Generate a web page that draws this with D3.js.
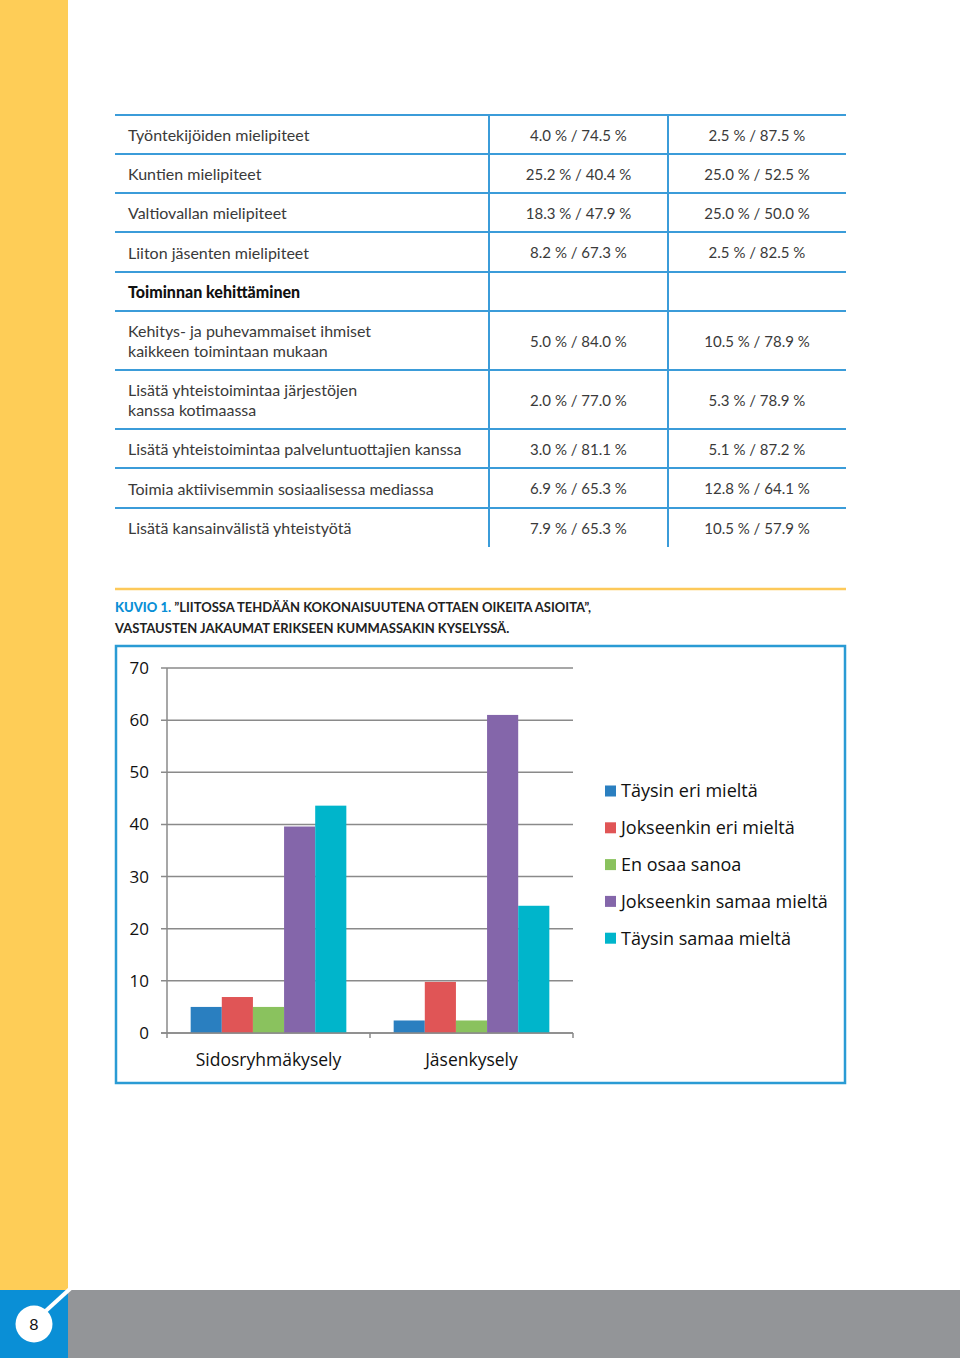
<!DOCTYPE html>
<html><head><meta charset="utf-8">
<script src="https://cdn.jsdelivr.net/npm/d3@7"></script>
<style>
html,body{margin:0;padding:0;background:#fff;}
svg{display:block;}
</style></head>
<body>
<svg id="page" width="960" height="1358"></svg>
<script>
// ---------- data ----------
const tableLabels = [
  ["Työntekijöiden mielipiteet"],
  ["Kuntien mielipiteet"],
  ["Valtiovallan mielipiteet"],
  ["Liiton jäsenten mielipiteet"],
  ["Toiminnan kehittäminen"],
  ["Kehitys- ja puhevammaiset ihmiset","kaikkeen toimintaan mukaan"],
  ["Lisätä yhteistoimintaa järjestöjen","kanssa kotimaassa"],
  ["Lisätä yhteistoimintaa palveluntuottajien kanssa"],
  ["Toimia aktiivisemmin sosiaalisessa mediassa"],
  ["Lisätä kansainvälistä yhteistyötä"]
];
const tableCol1 = ["4.0 % / 74.5 %","25.2 % / 40.4 %","18.3 % / 47.9 %","8.2 % / 67.3 %","","5.0 % / 84.0 %","2.0 % / 77.0 %","3.0 % / 81.1 %","6.9 % / 65.3 %","7.9 % / 65.3 %"];
const tableCol2 = ["2.5 % / 87.5 %","25.0 % / 52.5 %","25.0 % / 50.0 %","2.5 % / 82.5 %","","10.5 % / 78.9 %","5.3 % / 78.9 %","5.1 % / 87.2 %","12.8 % / 64.1 %","10.5 % / 57.9 %"];
const tableBold = [false,false,false,false,true,false,false,false,false,false];

const captionLabel = "KUVIO 1.";
const captionLine1 = "”LIITOSSA TEHDÄÄN KOKONAISUUTENA OTTAEN OIKEITA ASIOITA”,";
const captionLine2 = "VASTAUSTEN JAKAUMAT ERIKSEEN KUMMASSAKIN KYSELYSSÄ.";

const categories = ["Sidosryhmäkysely","Jäsenkysely"];
const seriesNames = ["Täysin eri mieltä","Jokseenkin eri mieltä","En osaa sanoa","Jokseenkin samaa mieltä","Täysin samaa mieltä"];
const sidosValues = [5.0, 6.9, 5.0, 39.6, 43.6];
const jasenValues = [2.4, 9.8, 2.4, 61.0, 24.4];
const yTicks = [0,10,20,30,40,50,60,70];
const seriesColors = ["#2a7fc0","#e05556","#8ac25e","#8466aa","#00b5cb"];
const pageNumber = "8";

// ---------- page decoration ----------
const svg = d3.select("#page");
svg.append("rect").attr("x",0).attr("y",0).attr("width",68).attr("height",1290).attr("fill","#fecd57");
svg.append("rect").attr("x",68).attr("y",1290).attr("width",892).attr("height",68).attr("fill","#939598");
svg.append("rect").attr("x",0).attr("y",1290).attr("width",68).attr("height",68).attr("fill","#0a8fd6");
svg.append("line").attr("x1",38).attr("y1",1318).attr("x2",72).attr("y2",1287).attr("stroke","#fff").attr("stroke-width",4);
svg.append("circle").attr("cx",34).attr("cy",1324).attr("r",18.5).attr("fill","#fff");
svg.append("text").attr("x",34).attr("y",1330).attr("text-anchor","middle")
  .attr("font-family","Lato, sans-serif").attr("font-size",16).attr("fill","#111").text(pageNumber);

// ---------- table ----------
const tableFont = "Lato, 'Open Sans', sans-serif";
const lineYs = [115,154,193,232,272,311,370,429,468,508];
const rowBottom = lineYs.slice(1).concat([547]);
const tX0 = 115, tX1 = 846, c1 = 489, c2 = 668;
const tableLines = svg.append("g").attr("stroke","#3b9cd9").attr("stroke-width",2);
lineYs.forEach(y=>tableLines.append("line").attr("x1",tX0).attr("x2",tX1).attr("y1",y).attr("y2",y));
[c1,c2].forEach(x=>tableLines.append("line").attr("x1",x).attr("x2",x).attr("y1",lineYs[0]).attr("y2",547));

const tg = svg.append("g").attr("font-family",tableFont).attr("fill","#3a3a3a");
tableLabels.forEach((lines,i)=>{
  const cy = (lineYs[i]+rowBottom[i])/2 + 1;
  const n = lines.length;
  lines.forEach((l,j)=>{
    tg.append("text").attr("x",128).attr("y",cy + (j-(n-1)/2)*19.5).attr("dy","0.35em")
      .attr("font-size",16)
      .attr("font-weight",tableBold[i]?900:400).attr("fill",tableBold[i]?"#111":"#3a3a3a").text(l);
  });
  tg.append("text").attr("x",(c1+c2)/2).attr("y",cy).attr("dy","0.35em").attr("font-size",15).attr("text-anchor","middle").text(tableCol1[i]);
  tg.append("text").attr("x",(c2+tX1)/2).attr("y",cy).attr("dy","0.35em").attr("font-size",15).attr("text-anchor","middle").text(tableCol2[i]);
});

// ---------- caption ----------
svg.append("line").attr("x1",115).attr("x2",846).attr("y1",589).attr("y2",589).attr("stroke","#fdc95a").attr("stroke-width",2.5);
const cap = svg.append("g").attr("font-family",tableFont).attr("font-size",13).attr("fill","#222");
const t1 = cap.append("text").attr("x",115).attr("y",612);
t1.append("tspan").attr("fill","#0a8fd6").attr("font-weight",900).text(captionLabel+" ");
t1.append("tspan").attr("font-weight",700).text(captionLine1);
cap.append("text").attr("x",115).attr("y",633).attr("font-weight",700).text(captionLine2);

// ---------- chart ----------
svg.append("rect").attr("x",116).attr("y",646).attr("width",729).attr("height",437)
  .attr("fill","#fff").attr("stroke","#2a9bd4").attr("stroke-width",2.5);

const chartFont = "'Open Sans', Lato, sans-serif";
const plotL = 167, plotR = 573, plotT = 668, plotB = 1033;
const y = d3.scaleLinear().domain([0,70]).range([plotB,plotT]);
const x0 = d3.scaleBand().domain(categories).range([plotL,plotR]).paddingInner(0).paddingOuter(0);
const x1 = d3.scaleBand().domain(seriesNames).range([0,x0.bandwidth()]).paddingInner(0).paddingOuter(0.76);

// gridlines
const grid = svg.append("g");
yTicks.forEach(t=>{
  grid.append("line").attr("x1",161).attr("x2",plotR).attr("y1",y(t)).attr("y2",y(t))
    .attr("stroke","#8a8a8a").attr("stroke-width",1.5);
});
// y axis line
svg.append("line").attr("x1",plotL).attr("x2",plotL).attr("y1",plotT).attr("y2",plotB+5).attr("stroke","#8a8a8a").attr("stroke-width",1.5);
// category ticks
categories.forEach((c,i)=>{
  const xx = x0(c)+x0.bandwidth();
  svg.append("line").attr("x1",xx).attr("x2",xx).attr("y1",plotB).attr("y2",plotB+5).attr("stroke","#8a8a8a").attr("stroke-width",1.5);
});

// y tick labels
const yl = svg.append("g").attr("font-family",chartFont).attr("font-size",17).attr("fill","#111");
yTicks.forEach(t=>{
  yl.append("text").attr("x",149).attr("y",y(t)).attr("dy","0.35em").attr("text-anchor","end").text(t);
});

// bars
const dataByCat = {"Sidosryhmäkysely":sidosValues,"Jäsenkysely":jasenValues};
categories.forEach(c=>{
  const g = svg.append("g").attr("transform",`translate(${x0(c)},0)`);
  seriesNames.forEach((s,k)=>{
    const v = dataByCat[c][k];
    g.append("rect").attr("x",x1(s)).attr("width",x1.bandwidth()).attr("y",y(v)).attr("height",y(0)-y(v)).attr("fill",seriesColors[k]);
  });
  svg.append("text").attr("x",x0(c)+x0.bandwidth()/2).attr("y",1060).attr("dy","0.35em")
    .attr("text-anchor","middle").attr("font-family",chartFont).attr("font-size",17.5).attr("fill","#111").text(c);
});
// redraw baseline over bars
svg.append("line").attr("x1",161).attr("x2",plotR).attr("y1",plotB).attr("y2",plotB).attr("stroke","#8a8a8a").attr("stroke-width",1.5);

// legend
const lg = svg.append("g").attr("font-family",chartFont).attr("font-size",18).attr("fill","#111");
seriesNames.forEach((s,k)=>{
  const cy = 791 + k*36.8;
  lg.append("rect").attr("x",605).attr("y",cy-5.5).attr("width",11).attr("height",11).attr("fill",seriesColors[k]);
  lg.append("text").attr("x",621).attr("y",cy).attr("dy","0.35em").text(s);
});
</script>
</body></html>
